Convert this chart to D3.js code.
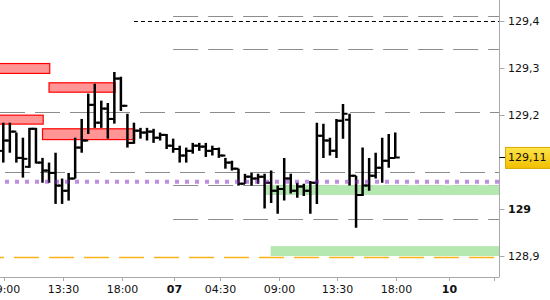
<!DOCTYPE html>
<html><head><meta charset="utf-8">
<script src="https://cdn.jsdelivr.net/npm/d3@7"></script>
<style>html,body{margin:0;padding:0;background:#fff;overflow:hidden}</style>
</head><body><svg id="c" width="550" height="300"></svg>
<script>
// ---- data (30-minute bars, index 0 = 09:00 day 1) ----
const opens  = [129.124,129.146,129.165,129.109,129.090,129.171,129.099,129.082,129.077,129.050,
                129.039,129.065,129.131,129.146,129.222,129.184,129.214,129.192,129.278,129.220,
                129.141,129.167,129.163,129.165,129.152,129.158,129.135,129.128,129.114,129.124,
                129.135,129.133,129.124,129.128,129.114,129.099,129.086,129.054,129.069,129.065,
                129.069,129.056,129.039,129.043,129.065,129.039,129.048,129.039,129.056,129.156,
                129.146,129.124,129.188,129.190,129.071,129.030,129.050,129.071,129.088,129.103,
                129.109];
const highs  = [129.184,129.184,129.163,129.152,129.173,129.173,129.109,129.099,129.120,129.065,
                129.077,129.152,129.192,129.246,129.267,129.231,129.226,129.292,129.282,129.203,
                129.184,129.173,129.173,129.171,129.163,129.160,129.150,129.135,129.131,129.141,
                129.141,129.141,129.135,129.131,129.109,129.103,129.086,129.075,129.077,129.075,
                129.075,129.082,129.050,129.109,129.075,129.056,129.054,129.060,129.184,129.182,
                129.152,129.192,129.224,129.203,129.071,129.131,129.109,129.120,129.152,129.160,
                129.163];
const lows   = [129.099,129.120,129.099,129.067,129.088,129.097,129.056,129.056,129.011,129.011,
                129.018,129.065,129.120,129.160,129.173,129.173,129.150,129.182,129.209,129.131,
                129.139,129.150,129.146,129.141,129.146,129.128,129.120,129.099,129.099,129.118,
                129.124,129.111,129.114,129.109,129.086,129.082,129.050,129.054,129.050,129.054,
                129.001,129.013,128.990,129.018,129.033,129.024,129.028,128.990,129.011,129.109,
                129.114,129.109,129.150,129.050,128.960,129.028,129.039,129.065,129.056,129.088,
                129.109];
const closes = [129.146,129.165,129.109,129.107,129.171,129.099,129.082,129.077,129.050,129.039,
                129.065,129.131,129.146,129.222,129.184,129.214,129.192,129.278,129.220,129.141,
                129.167,129.163,129.165,129.152,129.158,129.135,129.128,129.114,129.124,129.135,
                129.133,129.124,129.128,129.114,129.099,129.086,129.054,129.069,129.065,129.069,
                129.056,129.039,129.043,129.065,129.039,129.048,129.039,129.056,129.156,129.146,
                129.124,129.188,129.203,129.071,129.030,129.050,129.071,129.088,129.103,129.109,
                129.110];
const lastPrice = 129.11;

const xTickIndex  = [0, 9, 18, 26, 33, 42, 51, 60, 68, 75];
const xTickLabels = ["09:00","13:30","18:00","07","04:30","09:00","13:30","18:00","10",""];
const xTickBold   = [false,false,false,true,false,false,false,false,true,false];
const yTickValues = [128.9, 129.0, 129.2, 129.3, 129.4];
const yTickLabels = ["128,9","129","129,2","129,3","129,4"];

// supply zones (red) and demand zones (green)
const redStart  = [-1, 7, -1, 6];
const redEnd    = [7, 17, 6, 20];
const redTop    = [129.310, 129.269, 129.200, 129.171];
const redBottom = [129.289, 129.249, 129.181, 129.148];
const greenStart  = [40, 41];
const greenTop    = [129.051, 128.921];
const greenBottom = [129.030, 128.900];

// horizontal levels
const grayLevelsAll  = [129.207, 129.079];
const grayLevelsDay2 = [129.411, 129.341, 129.051, 128.979];
const day2Start = 26;
const blackLevel = 129.40, blackStart = 20;
const purpleLevel = 129.058;
const orangeLevel = 128.897;

// ---- drawing ----
const W = 550, H = 300, plotR = 499.5, plotB = 277;
const svg = d3.select("#c");
const x = d3.scaleLinear().domain([-0.505, 75.88]).range([0, 499]);
const y = d3.scaleLinear().domain([128.9, 129.4]).range([256, 21.3]);
const font = "DejaVu Sans";

const plot = svg.append("g");
svg.append("defs").append("clipPath").attr("id","cp").append("rect")
  .attr("x",0).attr("y",0).attr("width",plotR).attr("height",plotB);
plot.attr("clip-path","url(#cp)");

const xMin = x.domain()[0], xMax = x.domain()[1];

// gray dashed levels
grayLevelsAll.forEach((v,k) => {
  plot.append("line").attr("x1", k===0 ? 0 : 5).attr("x2", plotR)
    .attr("y1", Math.round(y(v))+0.5).attr("y2", Math.round(y(v))+0.5)
    .attr("stroke","#8c8c8c").attr("stroke-width",1.2).attr("stroke-dasharray","25,10");
});
grayLevelsDay2.forEach(v => {
  plot.append("line").attr("x1", x(day2Start)).attr("x2", plotR)
    .attr("y1", Math.round(y(v))+0.5).attr("y2", Math.round(y(v))+0.5)
    .attr("stroke","#8c8c8c").attr("stroke-width",1.2).attr("stroke-dasharray","25,10");
});
// orange
plot.append("line").attr("x1",-21).attr("x2",plotR)
  .attr("y1",y(orangeLevel)).attr("y2",y(orangeLevel))
  .attr("stroke","#fbb21a").attr("stroke-width",1.5).attr("stroke-dasharray","25,10");
// black dashed
plot.append("line").attr("x1",x(blackStart)).attr("x2",plotR)
  .attr("y1",Math.round(y(blackLevel))+0.5).attr("y2",Math.round(y(blackLevel))+0.5)
  .attr("stroke","#000").attr("stroke-width",1).attr("stroke-dasharray","4,3");

// zones
redStart.forEach((s,k) => {
  const x0 = s < xMin ? -2 : x(s);
  plot.append("rect").attr("x",x0).attr("y",y(redTop[k]))
    .attr("width",x(redEnd[k])+0.7-x0).attr("height",y(redBottom[k])-y(redTop[k]))
    .attr("fill","#ff9595").attr("stroke","#ff0000").attr("stroke-width",1.2);
});
greenStart.forEach((s,k) => {
  plot.append("rect").attr("x",x(s)-0.5).attr("y",y(greenTop[k]))
    .attr("width",plotR-x(s)+0.5).attr("height",y(greenBottom[k])-y(greenTop[k]))
    .attr("fill","#b5e8b1");
});

// OHLC bars
const bars = plot.append("g");
opens.forEach((o,i) => {
  const cx = x(i);
  bars.append("line").attr("x1",cx).attr("x2",cx).attr("y1",y(highs[i])).attr("y2",y(lows[i]))
    .attr("stroke","#000").attr("stroke-width",2.5);
  bars.append("line").attr("x1",cx-4.5).attr("x2",cx).attr("y1",y(o)).attr("y2",y(o))
    .attr("stroke","#000").attr("stroke-width",2);
  bars.append("line").attr("x1",cx).attr("x2",cx+4.5).attr("y1",y(closes[i])).attr("y2",y(closes[i]))
    .attr("stroke","#000").attr("stroke-width",2);
});

// purple dotted level (on top, translucent)
plot.append("line").attr("x1",5).attr("x2",plotR)
  .attr("y1",y(purpleLevel)).attr("y2",y(purpleLevel))
  .attr("stroke","#811dc1").attr("stroke-opacity",0.5).attr("stroke-width",4).attr("stroke-dasharray","4,6");

// axes
const axCol = "#a8a8a8";
svg.append("line").attr("x1",plotR).attr("x2",plotR).attr("y1",0).attr("y2",plotB)
  .attr("stroke",axCol).attr("stroke-width",1);
svg.append("line").attr("x1",0).attr("x2",plotR).attr("y1",plotB+0.5).attr("y2",plotB+0.5)
  .attr("stroke",axCol).attr("stroke-width",1);

xTickIndex.forEach((t,k) => {
  const px = Math.round(x(t+0.15))+0.5;
  svg.append("line").attr("x1",px).attr("x2",px).attr("y1",plotB).attr("y2",plotB+4)
    .attr("stroke",axCol);
  if (xTickLabels[k]) svg.append("text").attr("x",px).attr("y",293)
    .attr("text-anchor","middle").attr("font-family",font).attr("font-size",11)
    .attr("font-weight", xTickBold[k] ? "bold" : "normal").attr("fill","#111")
    .text(xTickLabels[k]);
});

yTickValues.forEach((v,k) => {
  const py = Math.round(y(v))+0.5;
  svg.append("line").attr("x1",plotR).attr("x2",plotR+5).attr("y1",py).attr("y2",py)
    .attr("stroke",axCol);
  svg.append("text").attr("x",508).attr("y",py).attr("dy","0.36em")
    .attr("font-family",font).attr("font-size",11)
    .attr("font-weight", v===129 ? "bold" : "normal").attr("fill","#111")
    .text(yTickLabels[k]);
});

// current price label
const grad = svg.select("defs").append("linearGradient").attr("id","gold")
  .attr("x1",0).attr("x2",0).attr("y1",0).attr("y2",1);
grad.append("stop").attr("offset","0%").attr("stop-color","#ffe44a");
grad.append("stop").attr("offset","100%").attr("stop-color","#f1bf00");
const lp = y(lastPrice);
svg.append("line").attr("x1",plotR).attr("x2",506).attr("y1",Math.round(lp)+0.5).attr("y2",Math.round(lp)+0.5)
  .attr("stroke","#000").attr("stroke-width",1);
svg.append("rect").attr("x",505.5).attr("y",lp-10).attr("width",45).attr("height",21)
  .attr("fill","url(#gold)").attr("stroke","#d8a800").attr("stroke-width",1);
svg.append("text").attr("x",508).attr("y",lp).attr("dy","0.36em")
  .attr("font-family",font).attr("font-size",11).attr("fill","#111")
  .text(String(lastPrice).replace(".",","));
</script></body></html>
